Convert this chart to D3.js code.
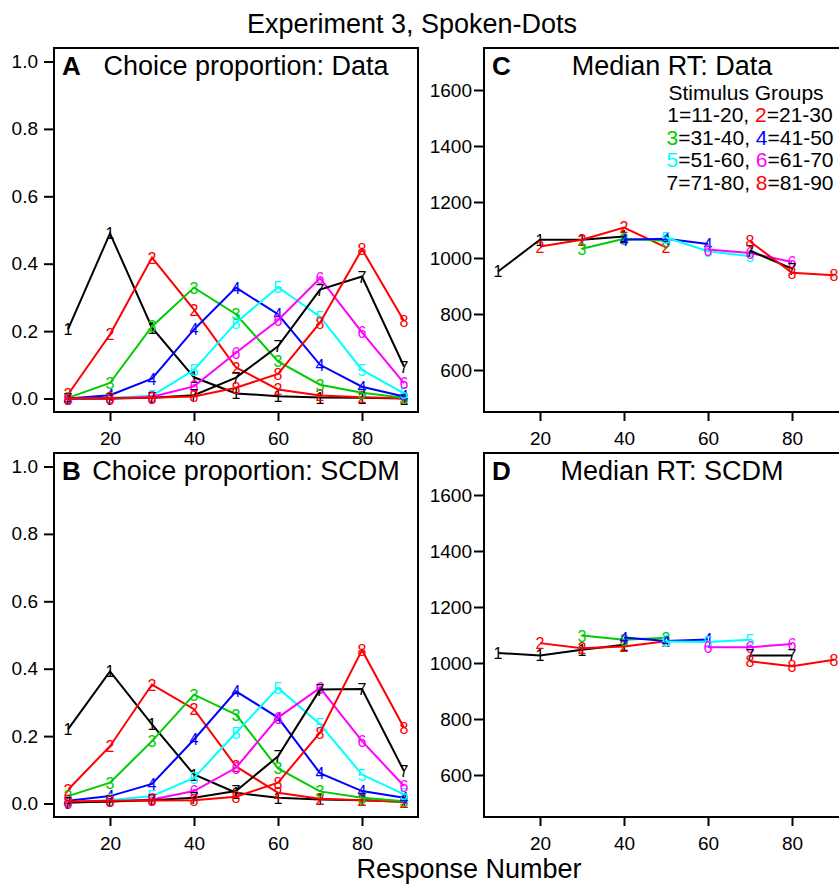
<!DOCTYPE html>
<meta charset="utf-8">
<style>
body { margin: 0; background: #fff; }
svg { display: block; font-family: "Liberation Sans", Arial, Helvetica, sans-serif; }
.frame { fill: none; stroke: #000; stroke-width: 2px; }
.axis path { display: none; }
.axis line { stroke: #000; stroke-width: 2px; }
.axis text { font-size: 19px; fill: #000; }
.series { fill: none; stroke-width: 2px; }
.ptlabel { font-size: 16px; text-anchor: middle; }
</style>
<svg width="839" height="888"></svg>
<script src="https://d3js.org/d3.v7.min.js"></script>
<script>
// response numbers (x) and the eight stimulus groups
var responseNumbers = [10, 20, 30, 40, 50, 60, 70, 80, 90];
var groupRanges = ["11-20", "21-30", "31-40", "41-50", "51-60", "61-70", "71-80", "81-90"];
var groupColors = ["#000000", "#ff0000", "#00cc00", "#0000ff", "#00ffff", "#ff00ff", "#000000", "#ff0000"];

// A: choice proportion, data (one row per stimulus group)
var choiceData = [
  [0.205, 0.490, 0.210, 0.063, 0.015, 0.007, 0.003, 0.002, 0.000],
  [0.012, 0.190, 0.418, 0.264, 0.092, 0.027, 0.009, 0.004, 0.001],
  [0.002, 0.046, 0.214, 0.329, 0.250, 0.110, 0.041, 0.017, 0.002],
  [0.000, 0.010, 0.059, 0.205, 0.329, 0.250, 0.100, 0.035, 0.006],
  [0.000, 0.002, 0.008, 0.085, 0.225, 0.330, 0.243, 0.085, 0.015],
  [0.000, 0.000, 0.005, 0.036, 0.136, 0.232, 0.357, 0.196, 0.046],
  [0.000, 0.000, 0.002, 0.010, 0.062, 0.155, 0.323, 0.362, 0.095],
  [0.000, 0.001, 0.002, 0.006, 0.032, 0.073, 0.225, 0.443, 0.230]
];

// B: choice proportion, SCDM
var choiceScdm = [
  [0.220, 0.392, 0.235, 0.086, 0.032, 0.017, 0.012, 0.010, 0.005],
  [0.041, 0.170, 0.353, 0.280, 0.110, 0.032, 0.014, 0.010, 0.005],
  [0.022, 0.062, 0.185, 0.323, 0.264, 0.104, 0.036, 0.017, 0.007],
  [0.008, 0.022, 0.058, 0.190, 0.333, 0.255, 0.090, 0.037, 0.017],
  [0.004, 0.010, 0.022, 0.076, 0.210, 0.343, 0.235, 0.086, 0.027],
  [0.003, 0.006, 0.012, 0.037, 0.106, 0.255, 0.343, 0.185, 0.052],
  [0.003, 0.006, 0.010, 0.017, 0.037, 0.140, 0.338, 0.340, 0.096],
  [0.006, 0.008, 0.009, 0.010, 0.020, 0.062, 0.210, 0.455, 0.225]
];

// C: median RT, data (null = no point)
var rtData = [
  [952, 1065, 1065, 1077, null, null, null, null, null],
  [null, 1041, 1065, 1109, 1038, null, null, null, null],
  [null, null, 1033, 1069, 1062, null, null, null, null],
  [null, null, null, 1065, 1069, 1050, null, null, null],
  [null, null, null, null, 1073, 1024, 1006, null, null],
  [null, null, null, null, null, 1030, 1018, 986, null],
  [null, null, null, null, null, null, 1026, 962, null],
  [null, null, null, null, null, null, 1059, 947, 938]
];

// D: median RT, SCDM
var rtScdm = [
  [1036, 1027, 1047, 1065, null, null, null, null, null],
  [null, 1071, 1053, 1059, 1078, null, null, null, null],
  [null, null, 1098, 1083, 1090, null, null, null, null],
  [null, null, null, 1091, 1079, 1084, null, null, null],
  [null, null, null, null, 1077, 1075, 1083, null, null],
  [null, null, null, null, null, 1056, 1056, 1068, null],
  [null, null, null, null, null, null, 1027, 1027, null],
  [null, null, null, null, null, null, 1006, 988, 1012]
];

var propTicks = [0, 0.2, 0.4, 0.6, 0.8, 1.0];
var rtTicks = [600, 800, 1000, 1200, 1400, 1600];
var xTicks = [20, 40, 60, 80];

var svg = d3.select("svg");
var W = 364, H = 364;

var x = d3.scaleLinear().domain([6.67, 93.33]).range([0, W]);
var yProp = d3.scaleLinear().domain([-0.04, 1.04]).range([H, 0]);
var yRT = d3.scaleLinear().domain([450, 1750]).range([H, 0]);

svg.append("text")
    .attr("x", 412).attr("y", 33)
    .attr("text-anchor", "middle")
    .style("font-size", "27px")
    .text("Experiment 3, Spoken-Dots");

svg.append("text")
    .attr("x", 469).attr("y", 878)
    .attr("text-anchor", "middle")
    .style("font-size", "27px")
    .text("Response Number");

drawPanel(54, 48, choiceData, yProp, propTicks, d3.format(".1f"), 6, "A", "Choice proportion: Data");
drawPanel(484, 48, rtData, yRT, rtTicks, d3.format("d"), 2, "C", "Median RT: Data");
drawPanel(54, 453, choiceScdm, yProp, propTicks, d3.format(".1f"), 6, "B", "Choice proportion: SCDM");
drawPanel(484, 453, rtScdm, yRT, rtTicks, d3.format("d"), 2, "D", "Median RT: SCDM");

drawLegend(484, 48);

function drawPanel(left, top, rows, y, yTicks, fmt, pad, letter, title) {
  var g = svg.append("g").attr("transform", "translate(" + left + "," + top + ")");

  g.append("g").attr("class", "axis")
      .call(d3.axisLeft(y).tickValues(yTicks).tickFormat(fmt).tickSize(10).tickPadding(pad));

  g.append("g").attr("class", "axis")
      .attr("transform", "translate(0," + H + ")")
      .call(d3.axisBottom(x).tickValues(xTicks).tickSize(9).tickPadding(11));

  var line = d3.line()
      .defined(function(d) { return d[1] != null; })
      .x(function(d) { return x(d[0]); })
      .y(function(d) { return y(d[1]); });

  rows.forEach(function(vals, i) {
    var pts = responseNumbers.map(function(r, j) { return [r, vals[j]]; });
    g.append("path")
        .attr("class", "series")
        .attr("stroke", groupColors[i])
        .attr("d", line(pts));
    g.selectAll(".pt" + i)
        .data(pts.filter(function(d) { return d[1] != null; }))
        .enter().append("text")
        .attr("class", "ptlabel")
        .attr("fill", groupColors[i])
        .attr("x", function(d) { return x(d[0]); })
        .attr("y", function(d) { return y(d[1]) + 6; })
        .text(i + 1);
  });

  g.append("rect").attr("class", "frame")
      .attr("width", W).attr("height", H);

  g.append("text")
      .attr("x", 8).attr("y", 27)
      .style("font-size", "26px").style("font-weight", "bold")
      .text(letter);
  g.append("text")
      .attr("x", left < 100 ? 192 : 188).attr("y", 27)
      .attr("text-anchor", "middle")
      .style("font-size", "27px")
      .text(title);
}

function drawLegend(left, top) {
  var g = svg.append("g").attr("transform", "translate(" + left + "," + top + ")");
  g.append("text")
      .attr("x", 262).attr("y", 52)
      .attr("text-anchor", "middle")
      .style("font-size", "21px")
      .text("Stimulus Groups");
  for (var k = 0; k < 4; k++) {
    var t = g.append("text")
        .attr("x", 266).attr("y", 74 + k * 22.7)
        .attr("text-anchor", "middle")
        .style("font-size", "21px");
    var a = 2 * k, b = 2 * k + 1;
    t.append("tspan").attr("fill", groupColors[a]).text(a + 1);
    t.append("tspan").text("=" + groupRanges[a] + ", ");
    t.append("tspan").attr("fill", groupColors[b]).text(b + 1);
    t.append("tspan").text("=" + groupRanges[b]);
  }
}
</script>
